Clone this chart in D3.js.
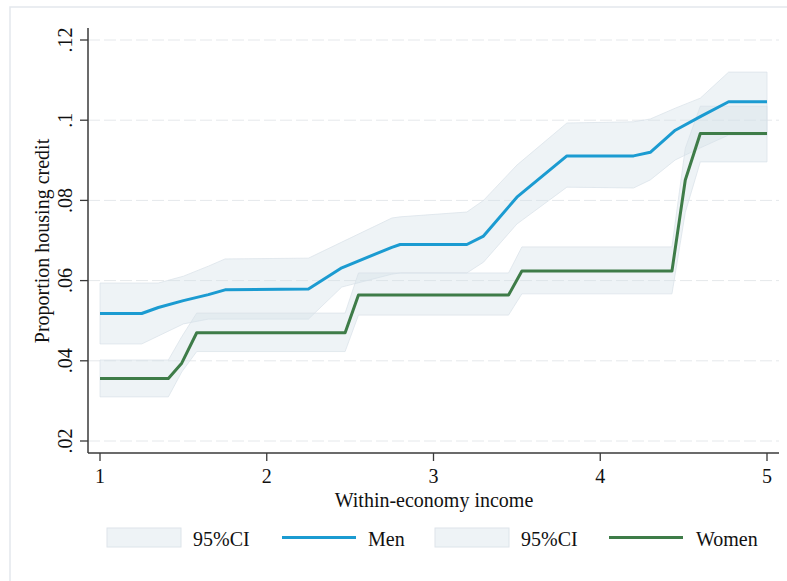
<!DOCTYPE html>
<html>
<head>
<meta charset="utf-8">
<script src="https://cdn.jsdelivr.net/npm/d3@7"></script>
<style>
  body { margin: 0; background: #fff; }
  text { font-family: "Liberation Serif", "Times New Roman", serif; fill: #111; }
</style>
</head>
<body>
<svg id="chart" width="787" height="581"></svg>
<script>
// men: predicted proportion and 95% CI
const menIncome = [1, 1.25, 1.35, 1.5, 1.65, 1.75, 2.25, 2.45, 2.75, 2.8, 3.2, 3.3, 3.5, 3.8, 4.2, 4.3, 4.45, 4.6, 4.77, 5];
const menProp   = [0.0518, 0.0518, 0.0533, 0.0550, 0.0565, 0.0577, 0.0579, 0.0632, 0.0683, 0.0690, 0.0690, 0.0711, 0.0808, 0.0911, 0.0911, 0.0920, 0.0975, 0.1009, 0.1046, 0.1046];
const menUpper  = [0.0594, 0.0594, 0.0594, 0.0611, 0.0636, 0.0654, 0.0656, 0.0696, 0.0756, 0.0759, 0.0771, 0.0800, 0.0888, 0.0993, 0.0996, 0.1003, 0.1030, 0.1055, 0.1120, 0.1120];
const menLower  = [0.0442, 0.0442, 0.0462, 0.0492, 0.0504, 0.0504, 0.0504, 0.0584, 0.0616, 0.0619, 0.0619, 0.0646, 0.0741, 0.0833, 0.0831, 0.0851, 0.0901, 0.0931, 0.0963, 0.0963];

// women
const womenIncome = [1, 1.41, 1.49, 1.58, 2.47, 2.55, 3.45, 3.53, 4.43, 4.51, 4.6, 5];
const womenProp   = [0.0356, 0.0356, 0.0394, 0.0470, 0.0470, 0.0564, 0.0564, 0.0624, 0.0624, 0.0851, 0.0967, 0.0967];
const womenUpper  = [0.0402, 0.0402, 0.0460, 0.0519, 0.0519, 0.0619, 0.0619, 0.0684, 0.0684, 0.0930, 0.1035, 0.1035];
const womenLower  = [0.0310, 0.0310, 0.0372, 0.0423, 0.0423, 0.0514, 0.0514, 0.0567, 0.0567, 0.0770, 0.0896, 0.0896];

const xTicks = [1, 2, 3, 4, 5];
const yTicks = [0.02, 0.04, 0.06, 0.08, 0.1, 0.12];
const yTickLabels = [".02", ".04", ".06", ".08", ".1", ".12"];
const legendLabels = ["95%CI", "Men", "95%CI", "Women"];

const blue = "#1b9bd1";
const green = "#3e7c48";

const svg = d3.select("#chart");

// graph region frame
svg.append("rect")
  .attr("x", 10).attr("y", 7).attr("width", 800).attr("height", 600)
  .attr("fill", "none").attr("stroke", "#e3e8ed").attr("stroke-width", 1.5);

const x = d3.scaleLinear().domain([1, 5]).range([100, 767]);
const y = d3.scaleLinear().domain([0.02, 0.12]).range([441, 40]);

const axisLeft = 88, axisBottom = 453;

// gridlines
svg.append("g").selectAll("line")
  .data(yTicks)
  .enter().append("line")
  .attr("x1", axisLeft).attr("x2", 779)
  .attr("y1", d => y(d)).attr("y2", d => y(d))
  .attr("stroke", "#e5e8eb")
  .attr("stroke-width", 1)
  .attr("stroke-dasharray", "12,4");

function build(inc, lo, hi, p) {
  return inc.map((v, i) => ({ v: v, lo: lo[i], hi: hi[i], p: p[i] }));
}
const men = build(menIncome, menLower, menUpper, menProp);
const women = build(womenIncome, womenLower, womenUpper, womenProp);

const area = d3.area()
  .x(d => x(d.v))
  .y0(d => y(d.lo))
  .y1(d => y(d.hi));

const line = d3.line()
  .x(d => x(d.v))
  .y(d => y(d.p));

[men, women].forEach(s => {
  svg.append("path")
    .datum(s)
    .attr("d", area)
    .attr("fill", "#d5e0e8")
    .attr("fill-opacity", 0.4)
    .attr("stroke", "#d9e1e8")
    .attr("stroke-opacity", 0.7)
    .attr("stroke-width", 1);
});

svg.append("path")
  .datum(men)
  .attr("d", line)
  .attr("fill", "none")
  .attr("stroke", blue)
  .attr("stroke-width", 3)
  .attr("stroke-linejoin", "round");

svg.append("path")
  .datum(women)
  .attr("d", line)
  .attr("fill", "none")
  .attr("stroke", green)
  .attr("stroke-width", 3)
  .attr("stroke-linejoin", "round");

// axes
svg.append("line")
  .attr("x1", axisLeft).attr("x2", axisLeft)
  .attr("y1", 28).attr("y2", axisBottom)
  .attr("stroke", "#3a3a3a").attr("stroke-width", 1.5);
svg.append("line")
  .attr("x1", axisLeft).attr("x2", 779)
  .attr("y1", axisBottom).attr("y2", axisBottom)
  .attr("stroke", "#3a3a3a").attr("stroke-width", 1.5);

const yt = svg.append("g").selectAll("g")
  .data(yTicks)
  .enter().append("g");
yt.append("line")
  .attr("x1", axisLeft - 8).attr("x2", axisLeft)
  .attr("y1", d => y(d)).attr("y2", d => y(d))
  .attr("stroke", "#3a3a3a").attr("stroke-width", 1.3);
yt.append("text")
  .attr("transform", d => `translate(72,${y(d)}) rotate(-90)`)
  .attr("text-anchor", "middle")
  .style("font-size", "20px")
  .text((d, i) => yTickLabels[i]);

const xt = svg.append("g").selectAll("g")
  .data(xTicks)
  .enter().append("g");
xt.append("line")
  .attr("x1", d => x(d)).attr("x2", d => x(d))
  .attr("y1", axisBottom).attr("y2", axisBottom + 8)
  .attr("stroke", "#3a3a3a").attr("stroke-width", 1.3);
xt.append("text")
  .attr("x", d => x(d)).attr("y", 483)
  .attr("text-anchor", "middle")
  .style("font-size", "20px")
  .text(d => d);

// axis titles
svg.append("text")
  .attr("x", 434).attr("y", 507)
  .attr("text-anchor", "middle")
  .style("font-size", "20px")
  .text("Within-economy income");

svg.append("text")
  .attr("transform", "translate(49,241) rotate(-90)")
  .attr("text-anchor", "middle")
  .style("font-size", "20px")
  .text("Proportion housing credit");

// legend
const legend = svg.append("g");
const legendY = 537.5;
const keyX = [107, 282, 435, 609];
const labelX = [193, 368, 521, 696];
const keyKind = ["band", blue, "band", green];

keyKind.forEach((k, i) => {
  if (k === "band") {
    legend.append("rect")
      .attr("x", keyX[i]).attr("y", legendY - 9.5)
      .attr("width", 74).attr("height", 19)
      .attr("fill", "#d5e0e8").attr("fill-opacity", 0.4)
      .attr("stroke", "#dde4ea").attr("stroke-width", 1);
  } else {
    legend.append("line")
      .attr("x1", keyX[i]).attr("x2", keyX[i] + 74)
      .attr("y1", legendY).attr("y2", legendY)
      .attr("stroke", k).attr("stroke-width", 3);
  }
  legend.append("text")
    .attr("x", labelX[i]).attr("y", 546)
    .style("font-size", "20px")
    .text(legendLabels[i]);
});
</script>
</body>
</html>
